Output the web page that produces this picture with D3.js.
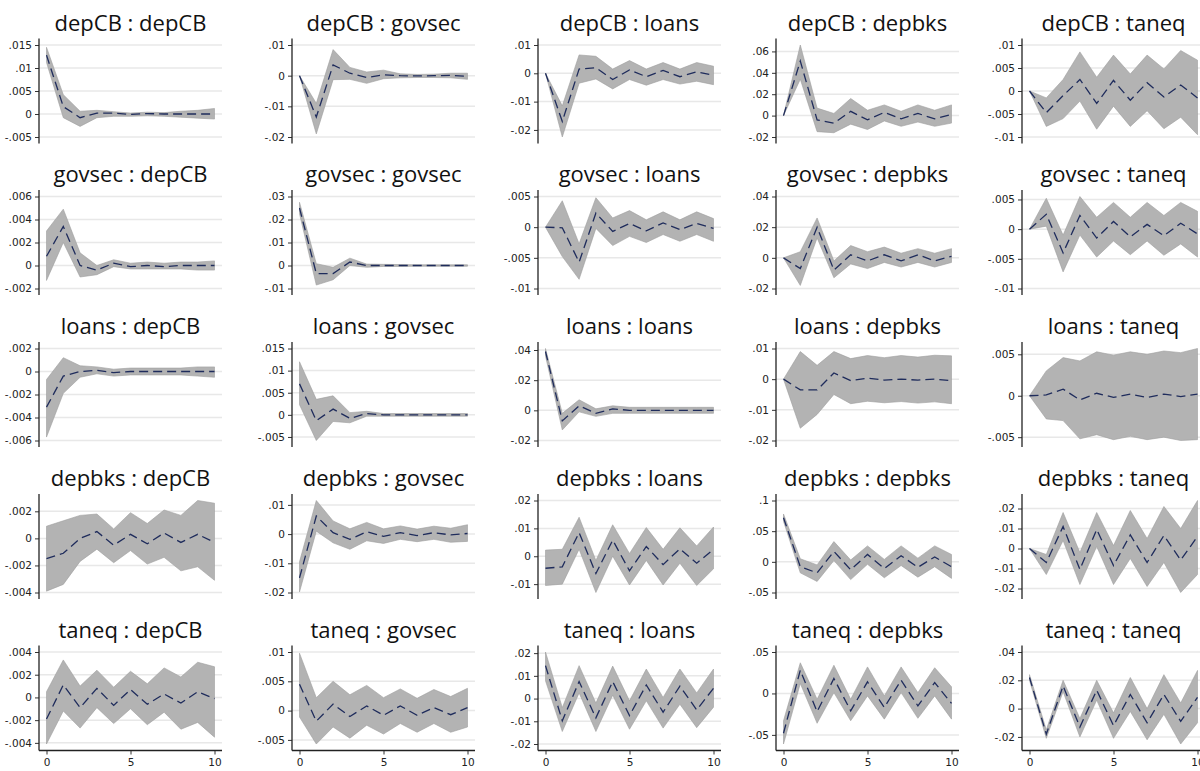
<!DOCTYPE html>
<html>
<head>
<meta charset="utf-8">
<script src="https://cdn.jsdelivr.net/npm/d3@7"></script>
<style>
  html, body { margin: 0; padding: 0; background: #ffffff; }
  svg { display: block; }
  .title { font-family: "Open Sans", sans-serif; font-size: 22px; fill: #111; }
  .tick text { font-family: "DejaVu Sans", sans-serif; font-size: 10.5px; fill: #222; }
</style>
</head>
<body>
<script>
// Orthogonalised impulse-response functions, impulse : response, steps 0..10
const variables = ["depCB", "govsec", "loans", "depbks", "taneq"];
const steps = [0, 1, 2, 3, 4, 5, 6, 7, 8, 9, 10];
const xTicks = [0, 5, 10];

// Panel order: row = impulse, column = response
const yTicks = [
  [-.005, 0, .005, .01, .015], [-.02, -.01, 0, .01], [-.02, -.01, 0, .01], [-.02, 0, .02, .04, .06], [-.01, -.005, 0, .005, .01],
  [-.002, 0, .002, .004, .006], [-.01, 0, .01, .02, .03], [-.01, -.005, 0, .005], [-.02, 0, .02, .04], [-.01, -.005, 0, .005],
  [-.006, -.004, -.002, 0, .002], [-.005, 0, .005, .01, .015], [-.02, 0, .02, .04], [-.02, -.01, 0, .01], [-.005, 0, .005],
  [-.004, -.002, 0, .002], [-.02, -.01, 0, .01], [-.01, 0, .01, .02], [-.05, 0, .05, .1], [-.02, -.01, 0, .01, .02],
  [-.004, -.002, 0, .002, .004], [-.005, 0, .005, .01], [-.02, -.01, 0, .01, .02], [-.05, 0, .05], [-.02, 0, .02, .04]
];

const irf = [
  [.0128, .0016, -.0008, .0002, .0002, -.0001, .0001, 0, 0, 0, 0],
  [0, -.0135, .0035, .0008, -.0006, .0003, 0, -.0001, 0, .0001, -.0002],
  [0, -.017, .0015, .002, -.0022, .0012, -.0012, .001, -.0012, .0005, -.0007],
  [0, .051, -.004, -.007, .004, -.004, .003, -.003, .002, -.003, .001],
  [0, -.0047, -.001, .0025, -.0027, .0023, -.002, .0018, -.0013, .0013, -.0015],

  [.0008, .0034, 0, -.0004, .0002, -.0001, 0, -.0001, 0, 0, 0],
  [.025, -.0035, -.0035, .0015, 0, 0, 0, 0, 0, 0, 0],
  [0, -.0001, -.0057, .0023, -.0007, .0006, -.0006, .0007, -.0004, .0006, -.0002],
  [0, -.007, .02, -.008, .002, -.002, .002, -.002, .002, -.002, .001],
  [0, .0025, -.004, .0023, -.0015, .0013, -.0013, .0008, -.0011, .001, -.0008],

  [-.0031, -.0004, 0, .0001, -.0001, 0, 0, 0, 0, 0, 0],
  [.007, -.0013, .0013, -.0008, .0003, 0, 0, 0, 0, 0, 0],
  [.039, -.007, .003, -.002, .001, 0, 0, 0, 0, 0, 0],
  [0, -.0035, -.0035, .002, -.0005, .0003, -.0003, 0, -.0003, 0, -.0005],
  [0, .0001, .0008, -.0005, .0003, -.0002, .0002, -.0002, .0002, -.0001, .0002],

  [-.0015, -.0011, 0, .0005, -.0005, .0003, -.0004, .0004, -.0003, .0003, -.0003],
  [-.015, .0062, .0005, -.0018, .0008, -.0008, .0005, -.0005, .0005, -.0003, .0002],
  [-.0043, -.0038, .0085, -.0062, .0058, -.0052, .0035, -.003, .0027, -.0025, .0025],
  [.072, -.008, -.018, .017, -.013, .012, -.011, .01, -.009, .008, -.008],
  [0, -.007, .011, -.0105, .0095, -.0085, .0068, -.007, .0065, -.0058, .006],

  [-.0019, .0011, -.0009, .0008, -.0007, .0007, -.0006, .0003, -.0005, .0005, -.0001],
  [.0045, -.0018, .0011, -.001, .0008, -.0008, .0008, -.0008, .0005, -.0007, .0005],
  [.0145, -.0098, .0075, -.0085, .0075, -.0075, .006, -.006, .0055, -.005, .0045],
  [-.048, .028, -.022, .018, -.021, .014, -.017, .016, -.015, .013, -.012],
  [.022, -.018, .016, -.013, .013, -.012, .01, -.01, .01, -.009, .008]
];

const lowerBand = [
  [.0112, -.0008, -.0027, -.0008, -.0005, -.0005, -.0004, -.0005, -.0007, -.0009, -.0011],
  [0, -.019, -.0013, -.0012, -.0025, -.001, -.0007, -.0006, -.0006, -.0007, -.0012],
  [0, -.0225, -.0035, -.002, -.0055, -.0022, -.0042, -.0022, -.0038, -.0028, -.004],
  [0, .034, -.015, -.016, -.008, -.013, -.005, -.01, -.006, -.01, -.007],
  [0, -.0077, -.006, -.0022, -.0083, -.0033, -.0077, -.0043, -.0082, -.0057, -.0095],

  [-.0013, .002, -.001, -.0008, -.0001, -.0003, -.0003, -.0003, -.0003, -.0004, -.0004],
  [.0225, -.0085, -.0062, 0, -.0008, -.0004, -.0004, -.0003, -.0003, -.0003, -.0003],
  [0, -.0048, -.0085, -.0002, -.003, -.0015, -.0025, -.0012, -.0023, -.0012, -.0023],
  [0, -.018, .013, -.013, -.004, -.007, -.003, -.006, -.003, -.006, -.003],
  [0, .0005, -.0072, -.001, -.0047, -.002, -.0043, -.002, -.0044, -.0025, -.0047],

  [-.0057, -.0019, -.0005, -.0002, -.0004, -.0003, -.0003, -.0003, -.0003, -.0004, -.0005],
  [.0023, -.0058, -.0015, -.0018, -.0003, -.0003, -.0003, -.0003, -.0003, -.0003, -.0003],
  [.036, -.013, -.001, -.004, -.002, -.002, -.002, -.002, -.002, -.002, -.002],
  [0, -.016, -.0115, -.005, -.008, -.0072, -.0077, -.0073, -.0078, -.0074, -.008],
  [0, -.0028, -.003, -.0052, -.0047, -.0053, -.0049, -.0053, -.005, -.0054, -.0053],

  [-.0039, -.0034, -.0017, -.0008, -.0018, -.0009, -.0019, -.0014, -.0024, -.0021, -.0031],
  [-.0198, .001, -.003, -.0052, -.0023, -.0032, -.0018, -.0026, -.0018, -.0028, -.0025],
  [-.0105, -.01, .0025, -.013, 0, -.0103, -.0015, -.0103, -.0025, -.0105, -.0045],
  [.066, -.018, -.032, .002, -.029, -.004, -.026, -.006, -.025, -.008, -.027],
  [0, -.013, .004, -.018, .001, -.018, -.005, -.019, -.007, -.022, -.013],

  [-.0041, -.0012, -.0027, -.0009, -.0023, -.001, -.0024, -.0013, -.0028, -.0022, -.0035],
  [-.0011, -.0057, -.0028, -.0047, -.0025, -.004, -.0022, -.0037, -.0022, -.0037, -.0028],
  [.0078, -.0145, .0025, -.0145, .0015, -.0135, -.001, -.013, -.0025, -.0128, -.0038],
  [-.061, .012, -.036, .001, -.033, -.003, -.031, .001, -.03, -.003, -.031],
  [.02, -.021, .012, -.02, .006, -.021, -.002, -.022, -.004, -.025, -.01]
];

const upperBand = [
  [.0145, .0042, .0006, .0008, .0005, .0002, .0004, .0003, .0006, .0008, .0012],
  [0, -.009, .0085, .0027, .0012, .0018, .0006, .0004, .0005, .0008, .0008],
  [0, -.0115, .0065, .006, .0015, .0045, .0015, .0038, .0015, .0038, .0025],
  [0, .066, .007, .002, .016, .005, .01, .004, .01, .005, .01],
  [0, -.0015, .0025, .0085, .003, .0078, .0037, .0078, .0048, .0088, .0067],

  [.003, .0049, .0011, 0, .0005, .0002, .0003, .0002, .0003, .0003, .0004],
  [.0275, .0008, -.0008, .0032, .0006, .0005, .0004, .0003, .0003, .0003, .0003],
  [0, .0043, -.0027, .0048, .0015, .0027, .0012, .0025, .0012, .0025, .0014],
  [0, .004, .026, -.002, .008, .004, .007, .003, .006, .003, .006],
  [0, .0052, -.001, .0055, .002, .0045, .002, .0045, .0023, .0045, .003],

  [-.0007, .0012, .0005, .0004, .0002, .0003, .0003, .0003, .0003, .0004, .0004],
  [.012, .0035, .0043, .0005, .0008, .0003, .0003, .0003, .0003, .0003, .0003],
  [.041, -.002, .007, .001, .003, .002, .002, .002, .002, .002, .002],
  [0, .009, .0045, .009, .0067, .0077, .007, .0077, .0072, .0078, .0076],
  [0, .003, .0046, .0042, .0053, .0049, .0053, .005, .0054, .0052, .0057],

  [.0009, .0013, .0017, .0018, .0007, .0019, .0011, .0021, .0017, .0028, .0026],
  [-.0095, .0115, .0045, .0018, .004, .0018, .0028, .0017, .0027, .002, .0032],
  [.0022, .0025, .014, -.0015, .0113, .001, .0103, .0025, .0102, .0037, .0105],
  [.078, .005, -.005, .033, .003, .026, .004, .026, .006, .026, .012],
  [0, -.003, .018, -.002, .018, .0015, .019, .005, .021, .01, .024],

  [.0005, .0033, .001, .0024, .0009, .0023, .0012, .0026, .0018, .0031, .0027],
  [.0098, .0022, .005, .0027, .0043, .0022, .0037, .0021, .0036, .0024, .0038],
  [.0205, -.004, .0145, -.002, .0143, -.001, .013, .0005, .013, .0025, .013],
  [-.033, .037, -.007, .034, -.007, .032, -.003, .032, .001, .031, .008],
  [.024, -.015, .02, -.007, .02, -.003, .022, 0, .024, .004, .027]
];

// Layout of the 5 x 5 grid
const width = 1200, height = 771;
const colAxisX = [39, 292, 538, 776, 1022];   // y-axis position of each column
const rowTop = [38.5, 190, 342, 494, 645.5];  // top of each plot region
const plotW = 183, plotH = 105;
const padX = 7.5, padY = 6.5;

// Stata-style tick labels: no leading zero
const fmt = v => {
  if (Math.abs(v) < 1e-12) return "0";
  return String(+v.toFixed(6)).replace("0.", ".");
};

const svg = d3.select("body").append("svg")
  .attr("width", width).attr("height", height)
  .attr("viewBox", `0 0 ${width} ${height}`);

svg.append("rect").attr("width", width).attr("height", height).attr("fill", "#ffffff");

variables.forEach((impulse, r) => {
  variables.forEach((response, c) => {
    const k = r * variables.length + c;
    const ticks = yTicks[k], mid = irf[k], lo = lowerBand[k], hi = upperBand[k];
    const left = colAxisX[c], top = rowTop[r];

    const x = d3.scaleLinear().domain([0, 10]).range([left + padX, left + plotW - padX]);
    const y = d3.scaleLinear()
      .domain([Math.min(d3.min(ticks), d3.min(lo)), Math.max(d3.max(ticks), d3.max(hi))])
      .range([top + plotH - padY, top + padY]);

    const g = svg.append("g").attr("class", "panel");

    // horizontal grid lines at the labelled ticks
    g.append("g").selectAll("line").data(ticks).join("line")
      .attr("x1", left).attr("x2", left + plotW)
      .attr("y1", d => y(d)).attr("y2", d => y(d))
      .attr("stroke", "#e8e8e8").attr("stroke-width", 1.5);

    // confidence band
    const band = d3.area()
      .x((d, i) => x(steps[i]))
      .y0((d, i) => y(lo[i]))
      .y1((d, i) => y(hi[i]));
    g.append("path").datum(steps).attr("d", band)
      .attr("fill", "#b3b3b3").attr("stroke", "#9e9e9e").attr("stroke-width", 0.6);

    // impulse response
    const line = d3.line().x((d, i) => x(steps[i])).y((d, i) => y(mid[i]));
    g.append("path").datum(steps).attr("d", line)
      .attr("fill", "none").attr("stroke", "#1f2c5c").attr("stroke-width", 1.3)
      .attr("stroke-dasharray", "9,5");

    // y axis
    const yAxis = g.append("g").attr("transform", `translate(${left},0)`)
      .call(d3.axisLeft(y).tickValues(ticks).tickFormat(fmt).tickSize(4).tickSizeOuter(0).tickPadding(3));
    yAxis.select(".domain").remove();
    yAxis.selectAll(".tick line").attr("stroke", "#333");
    g.append("line").attr("x1", left).attr("x2", left)
      .attr("y1", top).attr("y2", top + plotH)
      .attr("stroke", "#222").attr("stroke-width", 1.3);

    // x axis only under the bottom row
    if (r === variables.length - 1) {
      const xAxis = g.append("g").attr("transform", `translate(0,${top + plotH})`)
        .call(d3.axisBottom(x).tickValues(xTicks).tickFormat(d3.format("d")).tickSize(4).tickSizeOuter(0).tickPadding(4));
      xAxis.select(".domain").remove();
      xAxis.selectAll(".tick line").attr("stroke", "#333");
      g.append("line").attr("x1", left).attr("x2", left + plotW)
        .attr("y1", top + plotH).attr("y2", top + plotH)
        .attr("stroke", "#222").attr("stroke-width", 1.3);
    }

    // panel title
    g.append("text").attr("class", "title")
      .attr("x", left + plotW / 2).attr("y", top - 8)
      .attr("text-anchor", "middle")
      .text(`${impulse} : ${response}`);
  });
});
</script>
</body>
</html>
